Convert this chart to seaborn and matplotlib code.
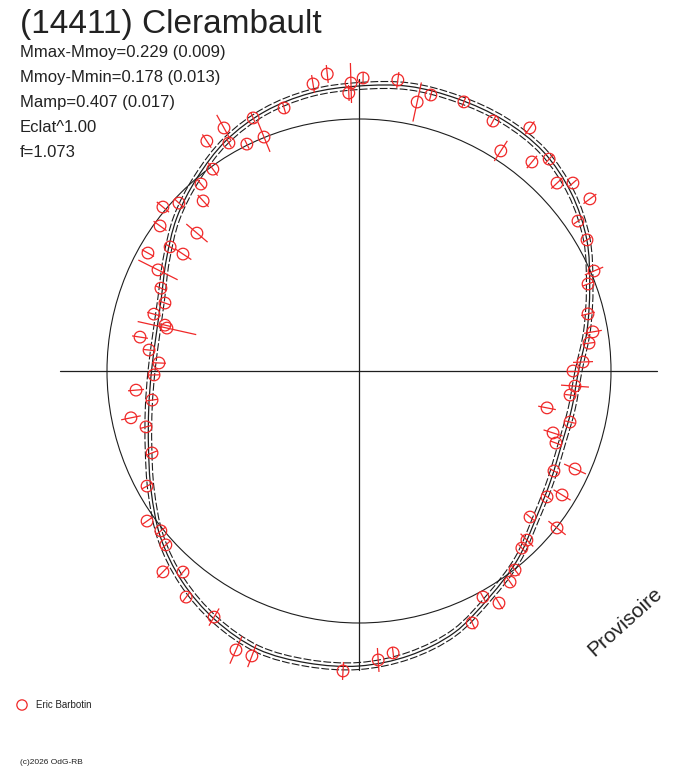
import numpy as np
import pandas as pd
import seaborn as sns
import matplotlib
matplotlib.use("Agg")
import matplotlib.pyplot as plt
from matplotlib.patches import Circle, PathPatch
from matplotlib.path import Path
from matplotlib.collections import LineCollection

# texts
title = "(14411) Clerambault"
stats_lines = ["Mmax-Mmoy=0.229 (0.009)",
               "Mmoy-Mmin=0.178 (0.013)",
               "Mamp=0.407 (0.017)",
               "Eclat^1.00",
               "f=1.073"]
observer = "Eric Barbotin"
credit = "(c)2026 OdG-RB"
stamp = "Provisoire"

# fitted curve: radius read every 10 deg (0 = right, counter-clockwise)
fit_angle = np.arange(0, 360, 10)
fit_radius = [219.5, 231.5, 245.5, 263.0, 277.0, 286.5, 289.5, 289.5, 289.0,
              285.0, 282.0, 276.0, 266.0, 252.0, 238.0, 222.5, 210.5, 206.0,
              207.5, 213.5, 224.0, 240.0, 259.0, 275.0, 287.5, 296.0, 296.5,
              295.0, 289.0, 278.5, 261.0, 246.5, 230.5, 221.0, 215.5, 216.0]
band = 3.5          # half width of the dashed envelope
mean_radius = 252.0  # mean brightness circle

# measurements: angle (deg), radius, half error
pt_angle = [29.9, 23.05, 20.8, 14.0, 9.5, 6.9, 2.3, 0.0, 356.0, 353.5,
            348.9, 346.4, 342.3, 339.9, 332.85, 335.6, 326.2, 328.6, 319.5, 321.6,
            314.8, 312.6, 308.1, 305.6, 298.75, 301.1, 294.2, 276.9, 273.8, 266.95,
            249.4, 246.2, 239.5, 232.6, 228.8, 225.7, 222.0, 218.9, 215.3, 208.5,
            201.6, 194.7, 191.6, 188.0, 184.9, 181.1, 177.7, 174.3, 171.2, 166.7,
            167.4, 164.5, 160.7, 157.3, 153.3, 150.8, 146.4, 146.7, 139.6, 143.9,
            140.1, 137.0, 132.5, 130.2, 125.9, 123.5, 119.7, 116.3, 119.05, 112.1,
            112.7, 105.9, 99.1, 96.1, 91.6, 92.1, 89.2, 82.4, 77.8, 75.4,
            68.7, 61.8, 54.9, 57.2, 50.4, 48.1, 43.5, 41.3, 36.7, 34.4]
pt_radius = [263.0, 255.4, 245.0, 236.0, 237.2, 231.7, 224.2, 214.0, 216.5, 212.4,
             191.6, 217.1, 203.7, 209.7, 219.1, 237.2, 226.3, 237.9, 224.9, 252.7,
             238.3, 240.6, 252.9, 259.5, 257.8, 271.0, 276.2, 284.0, 289.6, 300.4,
             304.4, 304.9, 285.6, 284.6, 267.2, 280.7, 259.9, 254.6, 259.7, 241.2,
             222.6, 220.2, 232.8, 209.0, 223.8, 205.0, 200.2, 211.0, 221.6, 199.4,
             196.8, 212.8, 205.6, 214.7, 225.0, 241.8, 211.3, 226.0, 212.8, 246.2,
             255.6, 246.2, 230.7, 244.8, 249.2, 275.7, 262.5, 253.1, 278.0, 252.5,
             274.3, 273.5, 290.7, 298.7, 288.1, 278.2, 293.0, 293.6, 275.2, 285.2,
             288.8, 283.6, 297.1, 261.8, 271.3, 284.7, 273.0, 284.8, 288.0, 265.4]
pt_err = [5, 10, 6, 7, 9, 6, 10, 6, 14, 5,
          9, 5, 10, 6, 5, 12, 5, 10, 5, 11,
          9, 5, 7, 5, 5, 7, 7, 6, 12, 9,
          12, 15, 10, 6, 6, 8, 6, 6, 6, 6,
          6, 6, 10, 6, 8, 6, 7, 6, 8, 6,
          30, 7, 6, 6, 22, 7, 10, 6, 14, 8,
          8, 6, 8, 6, 8, 8, 5, 5, 15, 16,
          6, 6, 9, 9, 20, 8, 6, 8, 20, 6,
          6, 6, 8, 12, 8, 6, 8, 5, 8, 5]

red = "#f02828"
ink = "#1e1e1e"


def closed_smooth_path(radii):
    # smooth closed path through the read points (Catmull-Rom as cubic Beziers)
    th = np.deg2rad(fit_angle)
    p = np.column_stack([np.asarray(radii) * np.cos(th), np.asarray(radii) * np.sin(th)])
    n = len(p)
    verts = [p[0]]
    codes = [Path.MOVETO]
    for i in range(n):
        p0, p1, p2, p3 = p[i - 1], p[i], p[(i + 1) % n], p[(i + 2) % n]
        verts += [p1 + (p2 - p0) / 6, p2 - (p3 - p1) / 6, p2]
        codes += [Path.CURVE4] * 3
    return Path(verts, codes)


sns.set_style("white")
plt.rcParams["font.family"] = ["Liberation Sans", "DejaVu Sans"]

fig = plt.figure(figsize=(6.88, 7.68), dpi=100)
ax = fig.add_axes([0, 0, 1, 1])
ax.set_xlim(-359, 329)
ax.set_ylim(-397, 371)
ax.set_aspect("equal")
ax.axis("off")

# axes cross
ax.plot([-299, 298], [0, 0], color=ink, lw=0.9)
ax.plot([0, 0], [-299, 292], color=ink, lw=0.9)

# mean circle
ax.add_patch(Circle((0, 0), mean_radius, fill=False, color=ink, lw=0.8))

# fitted curve and envelope
ax.add_patch(PathPatch(closed_smooth_path(fit_radius), fill=False, ec=ink, lw=0.9))
for k in (-1, 1):
    r2 = np.asarray(fit_radius) + k * band
    ax.add_patch(PathPatch(closed_smooth_path(r2), fill=False, ec=ink, lw=0.8,
                           linestyle=(0, (7, 2))))

# measurements with radial error bars
pts = pd.DataFrame({"angle": pt_angle, "r": pt_radius, "err": pt_err})
a = np.deg2rad(pts["angle"])
pts["x"] = pts["r"] * np.cos(a)
pts["y"] = pts["r"] * np.sin(a)
segs = [[((r - e) * np.cos(t), (r - e) * np.sin(t)),
         ((r + e) * np.cos(t), (r + e) * np.sin(t))]
        for r, e, t in zip(pts["r"], pts["err"], a)]
ax.add_collection(LineCollection(segs, colors=red, linewidths=0.9, zorder=3))
sns.scatterplot(data=pts, x="x", y="y", marker="o", s=70, facecolors="none",
                edgecolor=red, linewidth=0.9, ax=ax, zorder=4)

# texts
fig.text(20 / 688, 1 - 33 / 768, title, fontsize=24, color="#222222", va="baseline")
for i, line in enumerate(stats_lines):
    fig.text(20 / 688, 1 - (57 + 25 * i) / 768, line, fontsize=12,
             color="#222222", va="baseline")
fig.text(625 / 688, 1 - 622 / 768, stamp, fontsize=15, color="#222222",
         rotation=42, ha="center", va="center")

ax.scatter([22 - 359], [371 - 705], s=55, facecolors="none", edgecolors=red, linewidths=0.9)
fig.text(36 / 688, 1 - 705 / 768, observer, fontsize=7, color="#222222", va="center")
fig.text(20 / 688, 1 - 762 / 768, credit, fontsize=6, color="#222222", va="center")

fig.savefig("out.png", dpi=100)
